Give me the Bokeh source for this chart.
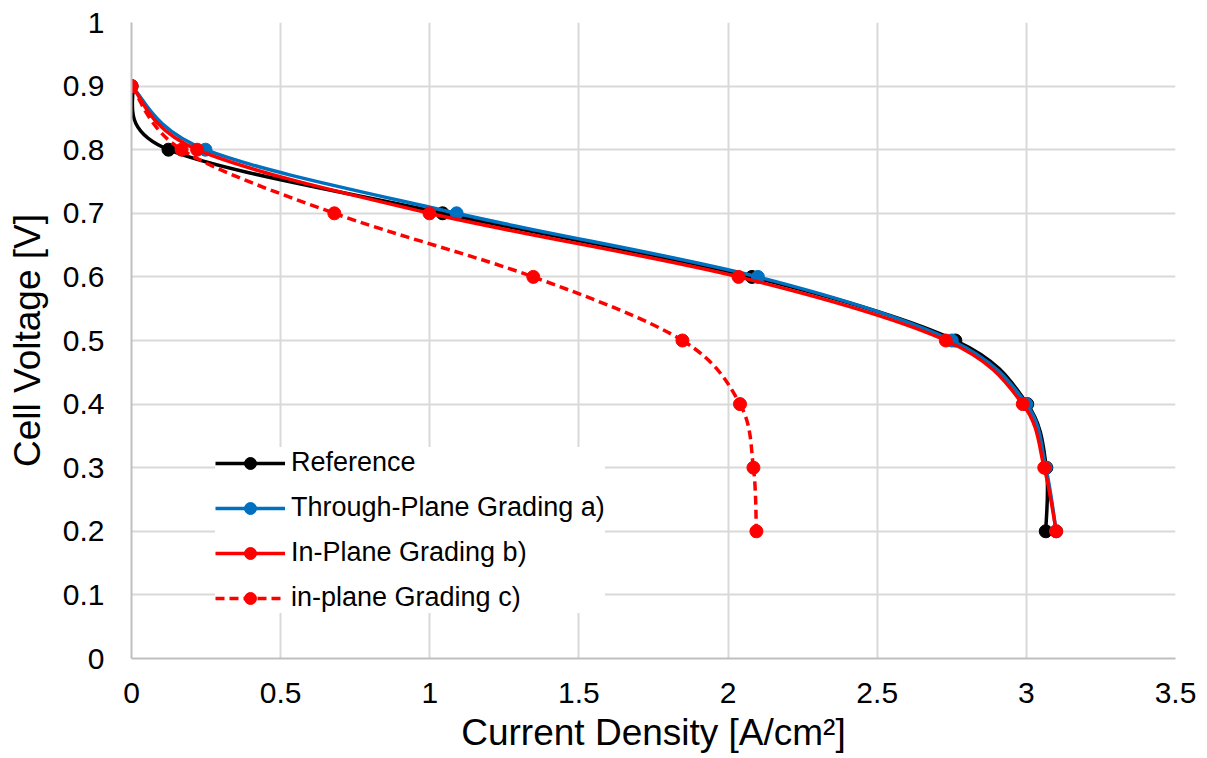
from bokeh.plotting import figure
from bokeh.models import (Range1d, FixedTicker, CustomJSTickFormatter, Legend, LegendItem,
                          ColumnDataSource)
from bokeh.embed import file_html
from bokeh.resources import INLINE

# ---- data ----
voltage = [0.9, 0.8, 0.7, 0.6, 0.5, 0.4, 0.3, 0.2]
ref_current = [0.0, 0.124, 1.043, 2.08, 2.762, 3.003, 3.067, 3.065]
tp_current = [0.0, 0.248, 1.09, 2.10, 2.75, 3.0, 3.065, 3.10]
ipb_current = [0.0, 0.22, 0.999, 2.035, 2.73, 2.988, 3.06, 3.10]
ipc_current = [0.0, 0.168, 0.68, 1.347, 1.847, 2.04, 2.085, 2.095]

series_names = ["Reference", "Through-Plane Grading a)", "In-Plane Grading b)", "in-plane Grading c)"]
series_colors = ["#000000", "#0070C0", "#FF0000", "#FF0000"]
series_dash = ["solid", "solid", "solid", "9 5"]

x_ticks = [0, 0.5, 1, 1.5, 2, 2.5, 3, 3.5]
y_ticks = [0, 0.1, 0.2, 0.3, 0.4, 0.5, 0.6, 0.7, 0.8, 0.9, 1.0]

FONT = "Liberation Sans"


def smooth_segments(xs, ys):
    """Catmull-Rom style bezier control points (like a spreadsheet's smoothed line)."""
    n = len(xs)
    d = dict(x0=[], y0=[], x1=[], y1=[], cx0=[], cy0=[], cx1=[], cy1=[])
    for i in range(n - 1):
        a = i - 1 if i > 0 else i
        b = i + 2 if i + 2 < n else i + 1
        d["x0"].append(xs[i]); d["y0"].append(ys[i])
        d["x1"].append(xs[i + 1]); d["y1"].append(ys[i + 1])
        d["cx0"].append(xs[i] + (xs[i + 1] - xs[a]) / 6.0)
        d["cy0"].append(ys[i] + (ys[i + 1] - ys[a]) / 6.0)
        d["cx1"].append(xs[i + 1] - (xs[b] - xs[i]) / 6.0)
        d["cy1"].append(ys[i + 1] - (ys[b] - ys[i]) / 6.0)
    return d


p = figure(frame_width=1044, frame_height=636, min_border_left=131, min_border_right=32,
           min_border_top=22, min_border_bottom=100,
           x_range=Range1d(0, 3.5), y_range=Range1d(0, 1),
           output_backend="svg", toolbar_location=None)
p.outline_line_color = None
p.background_fill_color = "white"
p.border_fill_color = "white"

fmt = CustomJSTickFormatter(code="return String(Math.round(tick*10)/10)")
for ax, ticks in ((p.xaxis[0], x_ticks), (p.yaxis[0], y_ticks)):
    ax.ticker = FixedTicker(ticks=ticks)
    ax.formatter = fmt
    ax.major_tick_line_color = None
    ax.minor_tick_line_color = None
    ax.axis_line_color = "#bfbfbf"
    ax.axis_line_width = 2
    ax.major_label_text_font = FONT
    ax.major_label_text_font_size = "30px"
    ax.major_label_text_color = "#000000"
    ax.axis_label_text_font = FONT
    ax.axis_label_text_font_size = "37px"
    ax.axis_label_text_font_style = "normal"
    ax.axis_label_text_color = "#000000"

p.xaxis[0].axis_label = "Current Density [A/cm²]"
p.yaxis[0].axis_label = "Cell Voltage [V]"
p.xaxis[0].major_label_standoff = 18
p.xaxis[0].axis_label_standoff = 6
p.yaxis[0].major_label_standoff = 21
p.yaxis[0].axis_label_standoff = 12

p.xgrid.ticker = FixedTicker(ticks=x_ticks)
p.ygrid.ticker = FixedTicker(ticks=y_ticks)
for g in (p.xgrid[0], p.ygrid[0]):
    g.grid_line_color = "#d9d9d9"
    g.grid_line_width = 2

items = []
all_x = [ref_current, tp_current, ipb_current, ipc_current]
for name, xs, col, dash in zip(series_names, all_x, series_colors, series_dash):
    src = ColumnDataSource(smooth_segments(xs, voltage))
    bz = p.bezier(x0="x0", y0="y0", x1="x1", y1="y1", cx0="cx0", cy0="cy0", cx1="cx1", cy1="cy1",
                  source=src, line_color=col, line_width=3.5, line_dash=dash)
    sc = p.scatter(x=xs, y=voltage, marker="circle", size=13, fill_color=col, line_color=col)
    items.append(LegendItem(label=name, renderers=[bz, sc]))

legend = Legend(items=items, location=(84, 45), padding=10, spacing=14,
                glyph_width=70, glyph_height=30, label_height=30, label_standoff=6,
                label_text_font=FONT, label_text_font_size="27px", label_text_color="#000000",
                border_line_color=None, background_fill_color="white", background_fill_alpha=1.0)
p.add_layout(legend, "center")

open("out.html", "w").write(file_html(p, INLINE))
